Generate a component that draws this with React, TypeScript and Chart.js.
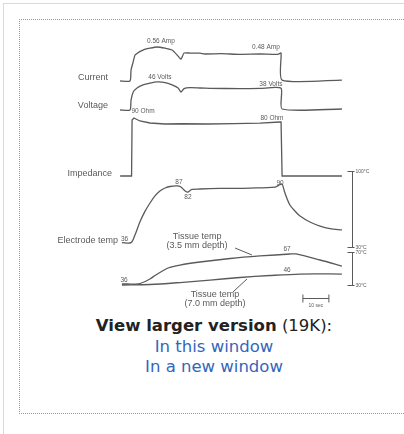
import React, { useEffect, useRef } from "react";
import { Chart, registerables } from "chart.js";

Chart.register(...registerables);

// time axis (seconds, 0 = RF power on)
const currentT = [-3.8, 0, 0.4, 1.2, 2.0, 5.0, 7.7, 10.4, 13.5, 16.2, 18.5, 19.6, 20.8, 23.1, 26.9, 28.8, 35, 42.3, 50, 56.9, 58.1, 58.5, 81.5];
const currentA = [0, 0, 0.18, 0.31, 0.43, 0.51, 0.54, 0.56, 0.54, 0.51, 0.41, 0.36, 0.46, 0.46, 0.46, 0.445, 0.45, 0.44, 0.445, 0.44, 0.46, 0.015, 0.015];

const voltageT = [-3.8, 0, 0.4, 1.2, 2.7, 5.0, 7.7, 10.4, 13.5, 16.2, 18.5, 19.6, 20.8, 23.1, 26.9, 30.8, 42.3, 50, 58.1, 58.5, 81.5];
const voltageV = [0, 0, 16, 29, 36, 41, 44, 46, 45, 41, 36, 29.5, 35, 36.5, 36, 35.5, 35, 35.3, 35.5, 1.6, 1.6];

const impedanceT = [-3.8, 0.6, 0.8, 1.5, 3.8, 7.7, 13.5, 20, 30, 40, 50, 57.7, 58.1, 58.5, 81.5];
const impedanceOhm = [0, 0, 88.5, 91.6, 86.9, 83.7, 82.1, 82.5, 82.1, 82.8, 83.5, 85.3, 85.3, 0, 0];

const electrodeT = [-3.1, 0.4, 1.9, 3.8, 5.8, 7.7, 9.6, 11.5, 13.5, 15.4, 18.1, 19.6, 21.2, 22.3, 23.8, 26.9, 34.6, 46.2, 55.8, 57.7, 58.5, 59.6, 61.5, 63.5, 65.4, 69.2, 73.1, 76.9, 81.5];
const electrodeC = [34, 34, 41, 53, 63, 70.5, 77, 81.6, 84.3, 85.7, 86.2, 85.2, 81.6, 80.6, 83, 83.4, 83.9, 84.3, 85.2, 87.5, 88, 79.7, 68.7, 63, 58.5, 53, 49.3, 47, 45.7];

const tissue35T = [-3.1, 3.8, 7.7, 9.6, 11.5, 14.6, 19.2, 26.9, 38.5, 50, 61.5, 63.8, 73.1, 81.5];
const tissue35C = [31.2, 31.8, 37.3, 41.5, 45.2, 50.6, 54.2, 57.9, 62.1, 65.2, 67.6, 67.6, 60.3, 53];

const tissue70T = [-3.1, 7.7, 19.2, 30.8, 42.3, 53.8, 65.4, 81.5];
const tissue70C = [30, 30.6, 33, 36, 39.1, 41.5, 43.3, 43.3];

// trace names and value annotations: [text, axis, t, value]
const traceNames: [string, string, number, number][] = [
  ["Current", "yCur", -8.5, 0.05],
  ["Voltage", "yVol", -8.5, 6.6],
  ["Impedance", "yImp", -6.9, 3.2],
  ["Electrode temp", "yEl", -4.6, 36.4],
];
const valueNotes: [string, string, number, number][] = [
  ["0.56 Amp", "yCur", 11.9, 0.66],
  ["0.48 Amp", "yCur", 52.3, 0.56],
  ["46 Volts", "yVol", 11.5, 54.1],
  ["38 Volts", "yVol", 54.2, 42.6],
  ["90 Ohm", "yImp", 5, 102.7],
  ["80 Ohm", "yImp", 54.6, 91.6],
  ["87", "yEl", 18.8, 89.9],
  ["82", "yEl", 22.3, 76],
  ["90", "yEl", 57.7, 88.9],
  ["36", "yEl", -2.1, 37.4],
  ["67", "yTis", 60.4, 73.6],
  ["46", "yTis", 60.4, 48.2],
  ["36", "yTis", -2.3, 36.1],
];
const tissueLabels: [string, number, number][] = [
  ["Tissue temp", 25.8, 88.2],
  ["(3.5 mm depth)", 25.8, 77.3],
  ["Tissue temp", 32.7, 17.9],
  ["(7.0 mm depth)", 32.7, 7],
];
const pointerLines: [number, number, number, number][] = [
  [40.4, 74.8, 46.9, 66.4],
  [39.6, 21.5, 45, 37.3],
];
const electrodeScaleTicks = [100, 30];
const tissueScaleTicks = [70, 30];
const scaleBarT = 85.5;
const timeBar = [66.5, 76.5];
const timeBarLevel = 14.2;

const INK = "#5a5a5a";

const toXY = (ts: number[], vs: number[]) => ts.map((t, i) => ({ x: t, y: vs[i] }));

const annotate = {
  id: "annotate",
  afterDatasetsDraw(chart: any) {
    const { ctx, scales } = chart;
    const X = scales.x;
    ctx.save();
    ctx.fillStyle = INK;
    ctx.strokeStyle = INK;
    ctx.textBaseline = "middle";
    ctx.font = '9px "Liberation Sans", Arial, sans-serif';
    ctx.textAlign = "right";
    for (const [txt, ax, t, v] of traceNames) {
      ctx.fillText(txt, X.getPixelForValue(t), scales[ax].getPixelForValue(v));
    }
    ctx.font = '6.5px "Liberation Sans", Arial, sans-serif';
    ctx.textAlign = "center";
    for (const [txt, ax, t, v] of valueNotes) {
      ctx.fillText(txt, X.getPixelForValue(t), scales[ax].getPixelForValue(v));
    }
    ctx.font = '9px "Liberation Sans", Arial, sans-serif';
    for (const [txt, t, v] of tissueLabels) {
      ctx.fillText(txt, X.getPixelForValue(t), scales.yTis.getPixelForValue(v));
    }
    ctx.lineWidth = 1;
    for (const [t1, v1, t2, v2] of pointerLines) {
      ctx.beginPath();
      ctx.moveTo(X.getPixelForValue(t1), scales.yTis.getPixelForValue(v1));
      ctx.lineTo(X.getPixelForValue(t2), scales.yTis.getPixelForValue(v2));
      ctx.stroke();
    }
    // temperature scale bars
    const bx = Math.round(X.getPixelForValue(scaleBarT)) + 0.5;
    ctx.font = '5px "Liberation Sans", Arial, sans-serif';
    ctx.textAlign = "left";
    const bar = (ax: string, ticks: number[]) => {
      const y1 = scales[ax].getPixelForValue(ticks[0]);
      const y2 = scales[ax].getPixelForValue(ticks[1]);
      ctx.beginPath();
      ctx.moveTo(bx, y1);
      ctx.lineTo(bx, y2);
      ctx.stroke();
      for (const v of ticks) {
        const y = Math.round(scales[ax].getPixelForValue(v)) + 0.5;
        ctx.beginPath();
        ctx.moveTo(bx - 5, y);
        ctx.lineTo(bx + 2, y);
        ctx.stroke();
        ctx.fillText(v + "°C", bx + 3, y);
      }
    };
    bar("yEl", electrodeScaleTicks);
    bar("yTis", tissueScaleTicks);
    // 10 sec bar
    const ty = Math.round(scales.yTis.getPixelForValue(timeBarLevel)) + 0.5;
    const tx1 = X.getPixelForValue(timeBar[0]);
    const tx2 = X.getPixelForValue(timeBar[1]);
    ctx.beginPath();
    ctx.moveTo(tx1, ty);
    ctx.lineTo(tx2, ty);
    ctx.moveTo(tx1, ty - 4);
    ctx.lineTo(tx1, ty + 4);
    ctx.moveTo(tx2, ty - 4);
    ctx.lineTo(tx2, ty + 4);
    ctx.stroke();
    ctx.textAlign = "center";
    ctx.fillText("10 sec", (tx1 + tx2) / 2, ty + 7);
    ctx.restore();
  },
};

export default function App() {
  const ref = useRef<HTMLCanvasElement>(null);
  useEffect(() => {
    if (!ref.current) return;
    const line = (data: any, yAxisID: string) => ({
      data,
      yAxisID,
      borderColor: INK,
      borderWidth: 1.3,
      pointRadius: 0,
      tension: 0.3,
      fill: false,
    });
    const hidden = (min: number, max: number) => ({ type: "linear", min, max, display: false });
    const chart = new Chart(ref.current, {
      type: "line",
      data: {
        datasets: [
          { ...line(toXY(currentT, currentA), "yCur"), tension: 0.2 },
          { ...line(toXY(voltageT, voltageV), "yVol"), tension: 0.2 },
          { ...line(toXY(impedanceT, impedanceOhm), "yImp"), tension: 0 },
          line(toXY(electrodeT, electrodeC), "yEl"),
          line(toXY(tissue35T, tissue35C), "yTis"),
          line(toXY(tissue70T, tissue70C), "yTis"),
        ] as any,
      },
      options: {
        animation: false,
        responsive: false,
        devicePixelRatio: 1,
        layout: { padding: 0 },
        plugins: { legend: { display: false }, tooltip: { enabled: false } },
        scales: {
          x: { type: "linear", min: -42.31, max: 103.85, display: false },
          yCur: hidden(-3.855, 1.005),
          yVol: hidden(-336.1, 147.5),
          yImp: hidden(-219.6, 246.4),
          yEl: hidden(-32.6, 239.0),
          yTis: hidden(-6.36, 351.2),
        } as any,
      },
      plugins: [annotate],
    });
    return () => chart.destroy();
  }, []);

  return (
    <div style={{ position: "absolute", left: 0, top: 0, width: 404, height: 434, overflow: "hidden", background: "#fff" }}>
      <div style={{ position: "absolute", left: 3, top: 3, width: 420, height: 450, borderLeft: "1px solid #d9d9d9", borderTop: "1px solid #d9d9d9" }} />
      <div style={{ position: "absolute", left: 19, top: 19, width: 420, height: 393, borderLeft: "1px dotted #999", borderTop: "1px dotted #999", borderBottom: "1px dotted #999" }} />
      <canvas ref={ref} width={380} height={295} style={{ position: "absolute", left: 20, top: 20, width: 380, height: 295 }} />
      <div style={{ position: "absolute", left: 0, top: 316, width: 428, textAlign: "center", fontFamily: '"DejaVu Sans", Verdana, sans-serif', fontSize: 16.5, lineHeight: "20.5px", color: "#222" }}>
        <div><b>View larger version</b> (19K):</div>
        <div style={{ color: "#3366bb" }}>In this window</div>
        <div style={{ color: "#3366bb" }}>In a new window</div>
      </div>
    </div>
  );
}
